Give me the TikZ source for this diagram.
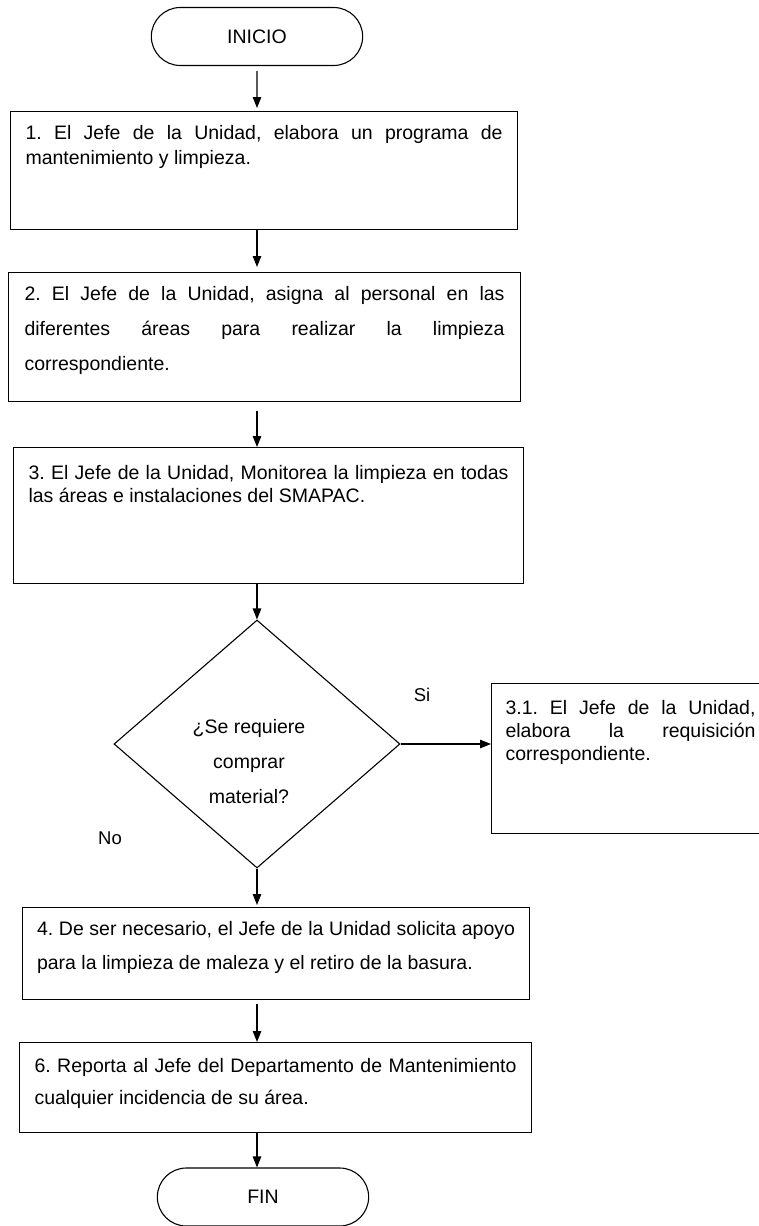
\documentclass[tikz,border=0pt]{standalone}
\usepackage{fontspec}
\setmainfont{Liberation Sans}
\usetikzlibrary{positioning}
\usetikzlibrary{arrows.meta}
\usetikzlibrary{shapes.misc}
\usetikzlibrary{shapes.geometric}
\frenchspacing

% text block of a process box: height, line skip, top gap, text
\newcommand{\boxtxt}[4]{\parbox[c][#1][t]{\linewidth}{\fontsize{19.5}{#2}\selectfont\vspace*{#3}#4}}

\begin{document}
\begin{tikzpicture}[
    x=1pt, y=-1pt,
    term/.style={rounded rectangle, draw, line width=1.1pt, minimum width=218pt, minimum height=58pt, font=\fontsize{19.5}{23}\selectfont},
    stepbox/.style={rectangle, draw, line width=1.1pt, anchor=north west, inner xsep=15pt, inner ysep=0pt, align=justify},
    decision/.style={diamond, draw, line width=1.1pt, minimum width=286pt, minimum height=248pt, inner sep=0pt},
    lbl/.style={font=\fontsize{18.5}{22}\selectfont, inner sep=0pt},
    flow/.style={-{Triangle[length=11pt,width=8.5pt]}, line width=1.1pt}
]
    \useasboundingbox (0,0) rectangle (758,1226);

    \node[term] (ini) at (257,36.5) {INICIO};
    \node[stepbox, text width=477pt] (s1) at (10,111)
        {\boxtxt{118pt}{25pt}{14pt}{1. El Jefe de la Unidad, elabora un programa de\linebreak mantenimiento y limpieza.}};
    \node[stepbox, text width=480pt, inner xsep=16pt] (s2) at (8,272)
        {\boxtxt{129pt}{35pt}{14pt}{2. El Jefe de la Unidad, asigna al personal en las\linebreak diferentes áreas para realizar la limpieza\linebreak correspondiente.}};
    \node[stepbox, text width=480pt] (s3) at (13,447)
        {\boxtxt{136pt}{22.5pt}{18pt}{3. El Jefe de la Unidad, Monitorea la limpieza en todas\linebreak las áreas e instalaciones del SMAPAC.}};
    \node[decision, label={[xshift=-8pt, yshift=-18pt, align=center, font=\fontsize{19.5}{35}\selectfont]center:{¿Se requiere\\comprar\\material?}}] (dec) at (257,744) {};
    \node[stepbox, text width=250pt, inner xsep=14pt] (s31) at (491,683)
        {\boxtxt{150pt}{23pt}{17pt}{3.1. El Jefe de la Unidad,\linebreak elabora la requisición\linebreak correspondiente.}};
    \node[stepbox, text width=478pt, inner xsep=14.5pt] (s4) at (22,907)
        {\boxtxt{92pt}{34pt}{14pt}{4. De ser necesario, el Jefe de la Unidad solicita apoyo\linebreak para la limpieza de maleza y el retiro de la basura.}};
    \node[stepbox, text width=482pt] (s6) at (19,1042)
        {\boxtxt{90pt}{32pt}{16pt}{6. Reporta al Jefe del Departamento de Mantenimiento\linebreak cualquier incidencia de su área.}};
    \node[term] (fin) at (263,1197) {FIN};

    \node[lbl] (si) at (422,695) {Si};
    \node[lbl] (no) at (110,838) {No};

    \draw[flow, shorten <=5pt, shorten >=3pt] (ini) -- (ini |- s1.north);
    \draw[flow, shorten >=5pt] (ini |- s1.south) -- (ini |- s2.north);
    \draw[flow, shorten <=9pt] (ini |- s2.south) -- (ini |- s3.north);
    \draw[flow] (dec.north |- s3.south) -- (dec.north);
    \draw[flow] (dec.east) -- (dec.east -| s31.west);
    \draw[flow, shorten >=2pt] (dec.south) -- (dec.south |- s4.north);
    \draw[flow, shorten <=4pt] (dec.south |- s4.south) -- (dec.south |- s6.north);
    \draw[flow] (dec.south |- s6.south) -- (dec.south |- fin.north);
\end{tikzpicture}
\end{document}
